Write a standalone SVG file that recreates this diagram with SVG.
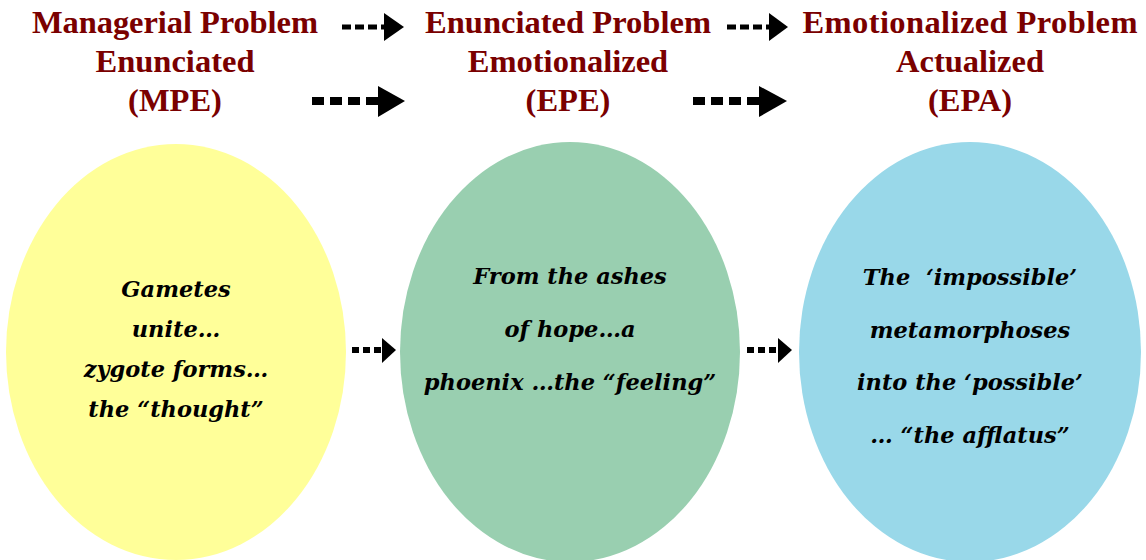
<svg xmlns="http://www.w3.org/2000/svg" width="1146" height="560" viewBox="0 0 1146 560">
<style>
.h{font-family:"Liberation Serif","Times New Roman",serif;font-weight:bold;font-size:32.5px;fill:#7A0000;text-anchor:middle}
.b{font-family:"DejaVu Serif",serif;font-weight:bold;font-style:italic;font-size:22.5px;fill:#000;text-anchor:middle}
.d{stroke:#000;fill:none}
</style>
<rect width="1146" height="560" fill="#fff"/>
<g id="title-mpe">
<text class="h" x="175" y="33" textLength="286">Managerial Problem</text>
<text class="h" x="175" y="72">Enunciated</text>
<text class="h" x="175" y="111">(MPE)</text>
</g>
<g id="title-epe">
<text class="h" x="568" y="33" textLength="286">Enunciated Problem</text>
<text class="h" x="568" y="72">Emotionalized</text>
<text class="h" x="568" y="111">(EPE)</text>
</g>
<g id="title-epa">
<text class="h" x="970" y="33" textLength="335">Emotionalized Problem</text>
<text class="h" x="970" y="72">Actualized</text>
<text class="h" x="970" y="111">(EPA)</text>
</g>
<g id="node-mpe">
<ellipse cx="176" cy="352" rx="170" ry="208" fill="#FFFF99"/>
<text class="b" x="176" y="297">Gametes</text>
<text class="b" x="176" y="337">unite…</text>
<text class="b" x="176" y="377">zygote forms…</text>
<text class="b" x="176" y="417">the “thought”</text>
</g>
<g id="node-epe">
<ellipse cx="570" cy="352" rx="170" ry="210" fill="#99CFB0"/>
<text class="b" x="570" y="284">From the ashes</text>
<text class="b" x="570" y="337">of hope…a</text>
<text class="b" x="570" y="390">phoenix …the “feeling”</text>
</g>
<g id="node-epa">
<ellipse cx="970" cy="352" rx="171" ry="210" fill="#99D8E9"/>
<text class="b" x="970" y="285" style="white-space:pre">The  ‘impossible’</text>
<text class="b" x="970" y="338">metamorphoses</text>
<text class="b" x="970" y="390">into the ‘possible’</text>
<text class="b" x="970" y="443">… “the afflatus”</text>
</g>
<g id="connectors">
<line class="d" x1="342" y1="27" x2="386" y2="27" stroke-width="5" stroke-dasharray="9 4"/>
<polygon points="384,13 404,27 384,41"/>
<line class="d" x1="727" y1="27" x2="771" y2="27" stroke-width="5" stroke-dasharray="9 4"/>
<polygon points="769,13 788,27 769,41"/>
<line class="d" x1="312" y1="101" x2="380" y2="101" stroke-width="8" stroke-dasharray="12 6"/>
<polygon points="378,86 405,101 378,117"/>
<line class="d" x1="693" y1="101" x2="761" y2="101" stroke-width="8" stroke-dasharray="12 6"/>
<polygon points="759,86 787,101 759,117"/>
<line class="d" x1="352" y1="350" x2="384" y2="350" stroke-width="6" stroke-dasharray="7 4"/>
<polygon points="382,338 396,350 382,363"/>
<line class="d" x1="747" y1="350" x2="780" y2="350" stroke-width="6" stroke-dasharray="7 4"/>
<polygon points="778,338 792,350 778,363"/>
</g>
</svg>
